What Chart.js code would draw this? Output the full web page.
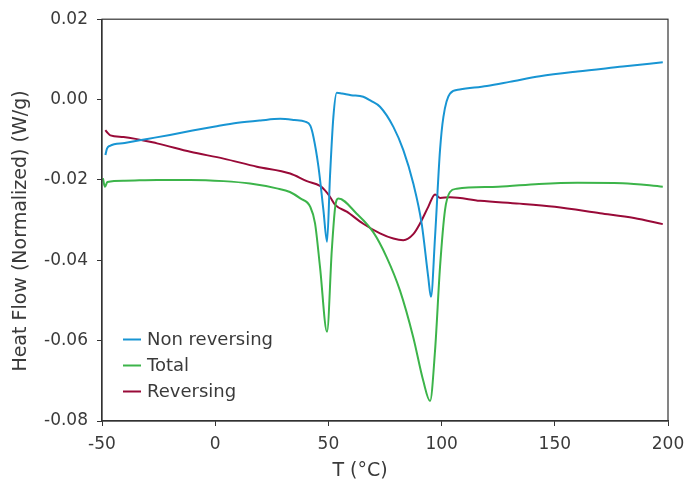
<!DOCTYPE html>
<html>
<head>
<meta charset="utf-8">
<script src="https://cdn.jsdelivr.net/npm/chart.js@4.4.1/dist/chart.umd.min.js"></script>
<style>
  html, body { margin: 0; padding: 0; background: #fff; }
  #wrap { width: 696px; height: 483px; }
</style>
</head>
<body>
<div id="wrap"><canvas id="dsc" width="696" height="483"></canvas></div>
<script>
// -------- MDSC traces: temperature (°C) and heat flow (W/g) ----------
const nonRevT = [-48.5, -47.8, -46.5, -40, -30, -20, -10, 0, 10, 20, 28.7, 35, 39.7, 42, 43.4, 45.6, 47.8, 49.4,
  50.7, 52.2, 53.7, 56, 60, 65.4, 69, 72.8, 78.7, 83.1, 87.5, 91.2, 94.1, 95.3, 97.1, 99.3, 100.8, 103.7, 108,
  120, 130, 143.4, 160, 180, 197.7];
const nonRevHF = [-0.0138, -0.0122, -0.0115, -0.0108, -0.0098, -0.0088, -0.0077, -0.0067, -0.0058, -0.0052, -0.0048,
  -0.0051, -0.0055, -0.0065, -0.0093, -0.0167, -0.0275, -0.0354, -0.0192, -0.0043, 0.0017, 0.0015, 0.0011, 0.0007,
  -0.0004, -0.0018, -0.0068, -0.0126, -0.0209, -0.0309, -0.0442, -0.0491, -0.0342, -0.0126, -0.0043, 0.0015,
  0.0025, 0.0034, 0.0044, 0.0058, 0.0070, 0.0082, 0.0093];

const totalT = [-49.6, -48.7, -47.6, -40, -25.7, -11, 3.7, 15.4, 27.2, 33, 37.6, 42, 44.1, 46.3, 49.4, 51.5, 53,
  54.4, 62.5, 69.8, 75.7, 81.6, 87.5, 91.9, 94.9, 97.1, 99.3, 101.5, 103.7, 106.7, 125, 143, 160, 180, 197.7];
const totalHF = [-0.0196, -0.0217, -0.0205, -0.0202, -0.0200, -0.0200, -0.0203, -0.0209, -0.0221, -0.0230, -0.0246,
  -0.0267, -0.0308, -0.0417, -0.0578, -0.0375, -0.0267, -0.0246, -0.0284, -0.0330, -0.0392, -0.0475, -0.0592,
  -0.0700, -0.0750, -0.0625, -0.0417, -0.0275, -0.0230, -0.0222, -0.0217, -0.0210, -0.0207, -0.0208, -0.0217];

const revT = [-48.5, -47.5, -46.3, -40.5, -25.7, -11, 3.7, 18.4, 33.1, 40.5, 46.3, 48.5, 50.7, 53, 58.1, 65.4,
  72.8, 78.7, 83.1, 87.5, 90.4, 94.1, 97.1, 99.3, 103.7, 117, 134.5, 150, 170, 185, 197.7];
const revHF = [-0.0076, -0.0083, -0.0089, -0.0093, -0.0109, -0.0130, -0.0147, -0.0167, -0.0184, -0.0203, -0.0215,
  -0.0226, -0.0242, -0.0262, -0.0279, -0.0309, -0.0333, -0.0346, -0.0350, -0.0335, -0.0309, -0.0267, -0.0236,
  -0.0245, -0.0243, -0.0252, -0.0259, -0.0267, -0.0283, -0.0295, -0.0310];

const seriesNames = ["Non reversing", "Total", "Reversing"];
const xTicks = [-50, 0, 50, 100, 150, 200];
const yTicks = [0.02, 0.00, -0.02, -0.04, -0.06, -0.08];

const COLORS = ["#1895d3", "#3cb44a", "#990a38"];
const FONT = "'DejaVu Sans', sans-serif";
const TEXT = "#3a3a3a";
const AXIS = "#333";

const toPoints = (xs, ys) => xs.map((x, i) => ({ x, y: ys[i] }));

// -------- Frame, axis titles, legend ----------
const decorations = {
  id: "decorations",
  afterDraw(chart) {
    const { ctx, chartArea: a } = chart;
    ctx.save();
    ctx.strokeStyle = AXIS;
    ctx.lineWidth = 1.2;
    ctx.strokeRect(a.left, a.top, a.right - a.left, a.bottom - a.top);

    ctx.fillStyle = TEXT;
    ctx.font = "19px " + FONT;
    ctx.textAlign = "center";
    ctx.textBaseline = "middle";
    ctx.fillText("T (°C)", 360, 471);

    ctx.save();
    ctx.translate(21, 231);
    ctx.rotate(-Math.PI / 2);
    ctx.fillText("Heat Flow (Normalized) (W/g)", 0, 0);
    ctx.restore();

    // legend, lower left inside the plot
    ctx.font = "18px " + FONT;
    ctx.textAlign = "left";
    const rows = [339.5, 365.5, 391.5];
    chart.data.datasets.forEach((ds, i) => {
      ctx.strokeStyle = ds.borderColor;
      ctx.lineWidth = 2;
      ctx.beginPath();
      ctx.moveTo(123, rows[i]);
      ctx.lineTo(141, rows[i]);
      ctx.stroke();
      ctx.fillText(ds.label, 147, rows[i] + 1);
    });
    ctx.restore();
  }
};

const lineDataset = (label, xs, ys, color) => ({
  label,
  data: toPoints(xs, ys),
  borderColor: color,
  backgroundColor: color,
  borderWidth: 2,
  pointRadius: 0,
  showLine: true,
  fill: false,
  cubicInterpolationMode: "monotone"
});

new Chart(document.getElementById("dsc"), {
  type: "scatter",
  data: {
    datasets: [
      lineDataset(seriesNames[0], nonRevT, nonRevHF, COLORS[0]),
      lineDataset(seriesNames[1], totalT, totalHF, COLORS[1]),
      lineDataset(seriesNames[2], revT, revHF, COLORS[2])
    ]
  },
  options: {
    responsive: false,
    animation: false,
    devicePixelRatio: 1,
    layout: { padding: { top: 19, right: 28, left: 0, bottom: 0 } },
    plugins: { legend: { display: false }, tooltip: { enabled: false } },
    scales: {
      x: {
        type: "linear",
        min: xTicks[0],
        max: xTicks[xTicks.length - 1],
        afterBuildTicks: s => { s.ticks = xTicks.map(v => ({ value: v })); },
        afterFit: s => { s.height = 62; },
        grid: { drawOnChartArea: false, drawTicks: true, tickLength: 5, color: AXIS },
        border: { display: true, color: AXIS, width: 1.2 },
        ticks: { color: TEXT, font: { family: FONT, size: 17 }, padding: 8, maxRotation: 0 }
      },
      y: {
        type: "linear",
        min: yTicks[yTicks.length - 1],
        max: yTicks[0],
        afterBuildTicks: s => { s.ticks = yTicks.map(v => ({ value: v })); },
        afterFit: s => { s.width = 102; },
        grid: { drawOnChartArea: false, drawTicks: true, tickLength: 5, color: AXIS },
        border: { display: true, color: AXIS, width: 1.2 },
        ticks: {
          color: TEXT,
          font: { family: FONT, size: 17 },
          padding: 9,
          callback: v => v.toFixed(2)
        }
      }
    }
  },
  plugins: [decorations]
});
</script>
</body>
</html>
